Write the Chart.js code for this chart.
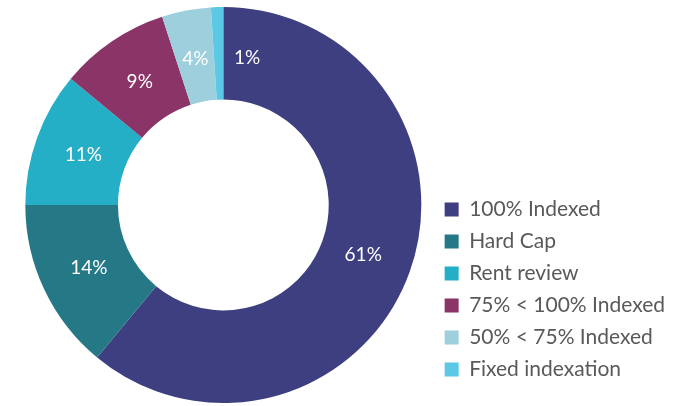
<!DOCTYPE html>
<html>
<head>
<meta charset="utf-8">
<script src="https://cdn.jsdelivr.net/npm/chart.js@4"></script>
<style>
    html, body { margin: 0; padding: 0; background: #ffffff; }
    #wrap { width: 686px; height: 406px; }
</style>
</head>
<body>
<div id="wrap"><canvas id="indexChart"></canvas></div>
<script>
const categories = [
    '100% Indexed',
    'Hard Cap',
    'Rent review',
    '75% < 100% Indexed',
    '50% < 75% Indexed',
    'Fixed indexation',
]
const shares = [61, 14, 11, 9, 4, 1]
const sliceColors = ['#3e3f80', '#257885', '#24afc7', '#8a3468', '#9ecfdc', '#5bc8e6']

const fontFamily = "Lato, 'Open Sans', sans-serif"

// draws the % figures inside each ring slice
const sliceLabelPlugin = {
    id: 'sliceLabelPlugin',
    afterDatasetsDraw(chart) {
        const ctx = chart.ctx
        const meta = chart.getDatasetMeta(0)
        ctx.save()
        ctx.fillStyle = '#ffffff'
        ctx.font = '19px ' + fontFamily
        ctx.textAlign = 'center'
        ctx.textBaseline = 'middle'
        meta.data.forEach((arc, i) => {
            const r = (arc.innerRadius + arc.outerRadius) / 2 - 3
            let a = (arc.startAngle + arc.endAngle) / 2
            if (shares[i] < 2) {
                // tiny slice: push the label just past the slice end
                a = arc.endAngle + 0.16
            }
            const x = arc.x + Math.cos(a) * r
            const y = arc.y + Math.sin(a) * r
            ctx.fillText(shares[i] + '%', x, y)
        })
        ctx.restore()
    },
}

const config = {
    type: 'doughnut',
    data: {
        labels: categories,
        datasets: [
            {
                data: shares,
                backgroundColor: sliceColors,
                borderWidth: 0,
                clip: false,
            },
        ],
    },
    options: {
        responsive: true,
        maintainAspectRatio: false,
        animation: false,
        radius: 198,
        cutout: 99,
        layout: {
            // bottom padding lifts the legend; radius is fixed so the ring keeps its size
            padding: { top: 19, bottom: 15, left: 13, right: 11 },
        },
        plugins: {
            tooltip: { enabled: false },
            legend: {
                position: 'right',
                align: 'end',
                labels: {
                    color: '#595959',
                    boxWidth: 14,
                    boxHeight: 14,
                    padding: 11,
                    font: { family: fontFamily, size: 21 },
                },
            },
        },
    },
    plugins: [sliceLabelPlugin],
}

const indexChart = new Chart(document.getElementById('indexChart'), config)
</script>
</body>
</html>
